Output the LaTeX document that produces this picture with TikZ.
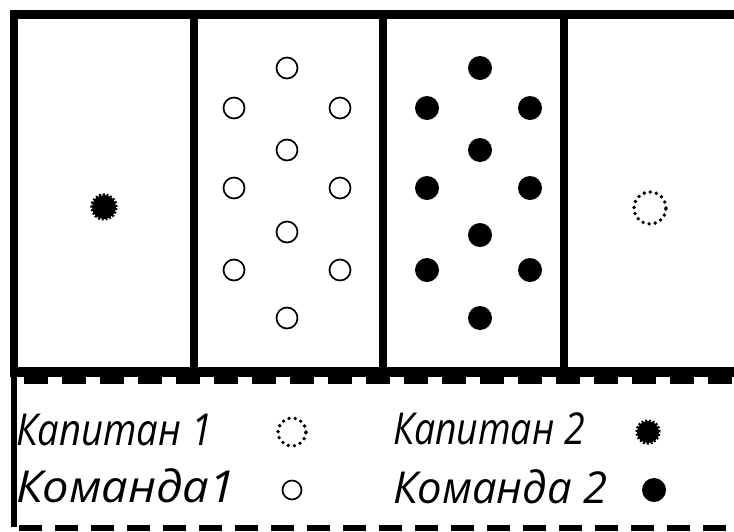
\documentclass[tikz,border=0pt]{standalone}
\usepackage{graphicx}
\usepackage{fontspec}
\setmainfont{Open Sans}
\begin{document}
\begin{tikzpicture}[x=1pt,y=-1pt,
  frame/.style={line width=#1, black},
  white1/.style={circle, draw=black, line width=1.7pt, fill=white, minimum size=21pt, inner sep=0pt},
  black2/.style={circle, fill=black, minimum size=24pt, inner sep=0pt},
  cap2/.style={circle, fill=black, minimum size=24pt, inner sep=0pt, draw=black, line width=3.4pt, dash pattern=on 1.9pt off 1.7pt},
  cap1/.style={circle, draw=black, line width=3.8pt, dash pattern=on 0pt off 6.2pt, line cap=round, minimum size=#1, inner sep=0pt},
  legtext/.style={anchor=base west, font=\itshape\fontsize{44}{44}\selectfont, inner sep=0pt}
]
\useasboundingbox (0,0) rectangle (734,531);
% frame
\draw[frame=9pt] (10,14.5) -- (734,14.5);
\draw[frame=8pt] (14,10) -- (14,377);
\draw[frame=6.5pt] (14,377) -- (14,527);
\draw[frame=8pt] (194,19) -- (194,370);
\draw[frame=8pt] (383,19) -- (383,370);
\draw[frame=8pt] (564,19) -- (564,370);
\draw[frame=10pt] (10,372) -- (734,372);
\draw[frame=10pt, dash pattern=on 24pt off 14pt] (24,378.5) -- (734,378.5);
\draw[frame=6pt, dash pattern=on 23pt off 13pt] (19,528) -- (734,528);
% team 1
\foreach \n/\x/\y in {a/287/68,b/234/108,c/340/108,d/287/150,e/234/188,f/340/188,g/287/232,h/234/270,i/340/270,j/287/318}
  \node[white1] (w\n) at (\x,\y) {};
% team 2
\foreach \n/\x/\y in {a/480/68,b/427/108,c/530/108,d/480/150,e/427/188,f/530/188,g/480/235,h/427/270,i/530/270,j/480/318}
  \node[black2] (k\n) at (\x,\y) {};
% captains
\node[cap2] (c2) at (104,207) {};
\node[cap1=32pt] (c1) at (650,208) {};
% legend
\node[legtext] (l1) at (16,445) {\scalebox{0.87}[1]{Капитан 1}};
\node[legtext] (l2) at (16,502) {\scalebox{1.07}[1]{Команда1}};
\node[legtext] (l3) at (393,444) {\scalebox{0.85}[1]{Капитан 2}};
\node[legtext] (l4) at (393,503) {\scalebox{0.99}[1]{Команда 2}};
\node[cap1=28pt] (lc1) at (292,432) {};
\node[white1, minimum size=19pt] (lw) at (292,490) {};
\node[cap2, minimum size=22pt] (lc2) at (648,432) {};
\node[black2] (lk) at (654,490) {};
\end{tikzpicture}
\end{document}
